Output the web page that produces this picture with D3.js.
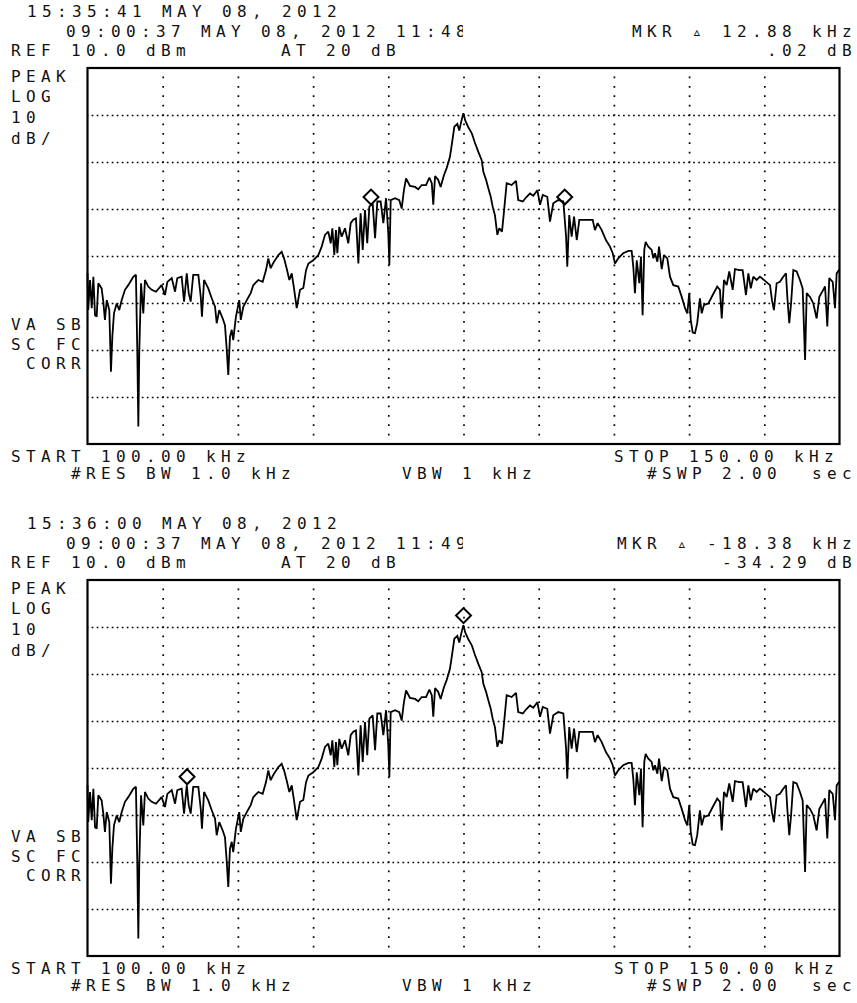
<!DOCTYPE html>
<html><head><meta charset="utf-8">
<script src="https://cdn.jsdelivr.net/npm/d3@7/dist/d3.min.js"></script>
<style>
html,body{margin:0;padding:0;background:#fff;}
svg{display:block;}
text{font-family:"DejaVu Sans Mono","Liberation Mono",monospace;font-size:16px;fill:#111;letter-spacing:5.37px;}
</style></head><body>
<svg id="c" width="857" height="1003"></svg>
<script>
// ---- data (trace; same stored trace in both sweeps) ----
const freqKHz = [100.00,100.05,100.17,100.28,100.39,100.50,100.61,100.72,100.94,101.05,101.16,101.28,101.45,101.56,101.65,101.76,101.94,102.11,102.27,102.49,102.71,103.05,103.22,103.31,103.38,103.44,103.56,103.71,103.82,104.04,104.27,104.55,104.93,105.15,105.31,105.60,105.82,105.97,106.26,106.42,106.60,106.73,106.86,107.03,107.37,107.53,107.61,107.75,108.03,108.26,108.48,108.59,108.76,108.99,109.14,109.26,109.36,109.47,109.59,109.69,109.87,110.09,110.19,110.36,110.59,110.85,111.02,111.36,111.65,111.87,112.02,112.18,112.40,112.69,112.91,113.07,113.24,113.42,113.58,113.73,113.91,114.13,114.35,114.53,114.69,115.01,115.35,115.57,115.79,116.01,116.17,116.28,116.41,116.52,116.61,116.74,116.90,117.12,117.34,117.50,117.67,117.85,118.01,118.16,118.30,118.45,118.60,118.74,118.96,119.12,119.27,119.49,119.67,119.85,120.00,120.07,120.16,120.45,120.73,120.89,121.04,121.18,121.44,121.78,121.99,122.22,122.51,122.73,122.89,122.99,123.11,123.32,123.48,123.70,123.88,124.10,124.28,124.39,124.59,124.72,124.85,124.99,125.12,125.32,125.55,125.76,125.98,126.21,126.32,126.50,126.65,126.81,126.94,127.09,127.25,127.38,127.56,127.69,127.87,128.20,128.49,128.64,128.94,129.20,129.42,129.64,129.91,130.09,130.27,130.57,130.75,130.97,131.30,131.64,131.82,131.90,132.03,132.19,132.35,132.53,132.70,133.19,133.59,133.74,133.92,134.19,134.47,134.74,134.92,135.07,135.29,135.62,135.96,136.18,136.29,136.40,136.52,136.69,136.80,136.91,137.02,137.11,137.29,137.51,137.62,137.73,137.89,138.00,138.18,138.33,138.55,138.73,138.95,139.28,139.51,139.73,139.88,140.01,140.11,140.24,140.39,140.54,140.72,140.84,140.99,141.28,141.57,141.87,142.05,142.17,142.32,142.50,142.67,142.90,143.05,143.34,143.56,143.78,143.94,144.10,144.27,144.49,144.71,145.05,145.38,145.51,145.64,145.82,146.04,146.26,146.44,146.53,146.66,146.78,146.93,147.15,147.37,147.55,147.71,147.82,148.04,148.26,148.48,148.66,148.92,149.04,149.19,149.32,149.55,149.70,149.81,150.00];
const levelDbm = [-33.7,-41.5,-35.1,-41.1,-34.4,-42.6,-42.9,-35.8,-36.9,-39.7,-43.6,-39.4,-41.5,-54.6,-47.2,-42.2,-40.1,-41.5,-39.4,-37.2,-36.2,-34.4,-34.0,-50.0,-66.3,-50.7,-35.8,-42.2,-35.1,-36.5,-37.2,-37.6,-36.2,-38.3,-35.5,-34.7,-37.6,-34.7,-34.4,-39.7,-33.7,-37.9,-39.7,-34.0,-34.0,-38.7,-42.9,-35.1,-36.9,-39.0,-40.8,-44.3,-41.5,-43.3,-44.7,-50.0,-55.3,-47.2,-45.7,-47.9,-42.9,-39.4,-43.6,-40.8,-39.4,-37.9,-36.2,-35.1,-35.5,-33.0,-30.5,-32.6,-31.2,-29.8,-29.1,-30.5,-32.6,-35.1,-33.7,-36.9,-41.1,-37.2,-36.8,-33.0,-31.6,-30.9,-29.8,-28.0,-25.5,-24.8,-27.3,-24.1,-29.8,-24.5,-29.4,-23.8,-25.9,-24.1,-27.3,-23.0,-22.3,-22.0,-31.6,-20.9,-28.7,-20.2,-27.3,-19.5,-18.8,-26.2,-18.4,-18.4,-23.0,-17.7,-25.2,-31.9,-18.1,-17.7,-18.1,-19.9,-16.0,-13.5,-15.1,-15.3,-15.8,-14.9,-14.9,-13.3,-14.5,-19.1,-13.0,-13.8,-15.3,-12.8,-11.3,-8.9,-5.0,-2.5,-1.9,-3.3,-1.4,0.4,-1.2,-2.6,-3.9,-5.9,-7.8,-9.6,-12.1,-13.8,-15.6,-17.4,-19.5,-21.3,-25.5,-24.1,-24.8,-20.6,-14.5,-14.9,-14.0,-18.1,-18.4,-17.4,-16.7,-17.2,-16.0,-19.1,-17.0,-17.4,-22.7,-18.8,-18.1,-18.4,-25.9,-32.3,-21.3,-25.9,-21.6,-26.6,-22.3,-22.3,-22.3,-24.5,-23.0,-24.5,-26.6,-28.0,-29.4,-31.6,-30.5,-29.4,-28.9,-28.9,-32.3,-37.9,-30.9,-35.8,-30.1,-42.6,-28.7,-27.0,-28.0,-28.7,-30.5,-29.4,-31.2,-28.0,-32.8,-29.8,-30.5,-34.4,-36.2,-36.5,-38.7,-41.1,-42.2,-37.9,-43.6,-46.3,-46.4,-44.3,-39.0,-42.2,-40.4,-40.1,-38.3,-36.5,-37.2,-43.3,-35.1,-36.2,-33.3,-37.2,-32.8,-33.0,-33.0,-38.3,-33.7,-36.9,-34.4,-35.1,-34.4,-35.3,-36.2,-39.4,-41.5,-35.8,-35.5,-34.4,-33.7,-38.7,-44.3,-40.1,-33.0,-33.3,-35.1,-36.9,-52.1,-37.9,-38.7,-40.1,-43.3,-38.7,-37.2,-36.5,-45.0,-34.7,-35.5,-41.1,-33.7,-32.8];

const freqDomain = [100, 150];          // START / STOP kHz
const levelDomain = [-70, 10];          // REF 10 dBm, 10 dB/div, 8 div
const freqGrid = [105,110,115,120,125,130,135,140,145];
const levelGrid = [0,-10,-20,-30,-40,-50,-60];

const sweepTime = ["15:35:41 MAY 08, 2012", "15:36:00 MAY 08, 2012"];
const stampLine = ["09:00:37 MAY 08, 2012 11:48", "09:00:37 MAY 08, 2012 11:49"];
const mkrFreqText = ["MKR \u25B5 12.88 kHz", "MKR \u25B5 -18.38 kHz"];
const mkrLevelText = [".02 dB", "-34.29 dB"];
const markerFreq = [[118.85, 131.73], [125.00, 106.62]];
const markerLevel = [[-19.6, -19.58], [0.3, -33.99]];
const leftLabelsTop = ["PEAK", "LOG", "10", "dB/"];
const leftLabelsBottom = ["VA SB", "SC FC", " CORR"];
const refText = "REF 10.0 dBm";
const attText = "AT 20 dB";
const startText = "START 100.00 kHz";
const stopText = "STOP 150.00 kHz";
const rbwText = "#RES BW 1.0 kHz";
const vbwText = "VBW 1 kHz";
const swpText = "#SWP 2.00  sec";

// ---- layout ----
const L = 87.5, R = 839.5, T = 68, B = 444;
const panelOffset = [0, 512];
const svg = d3.select("#c");
const x = d3.scaleLinear().domain(freqDomain).range([L, R]);
const y = d3.scaleLinear().domain(levelDomain).range([B, T]);
const trace = freqKHz.map((f, i) => [f, levelDbm[i]]);

const defs = svg.append("defs");
defs.append("clipPath").attr("id", "stampClip").attr("clipPathUnits", "userSpaceOnUse")
  .append("rect").attr("x", 0).attr("y", 0).attr("width", 463).attr("height", 60);

function txt(g, s, px, py) {
  return g.append("text").attr("x", px).attr("y", py).attr("xml:space", "preserve").text(s);
}

panelOffset.forEach((off, p) => {
  const g = svg.append("g").attr("transform", `translate(0,${off})`);

  // header
  txt(g, sweepTime[p], 27, 17);
  g.append("g").attr("clip-path", "url(#stampClip)")
    .append("text").attr("x", 66).attr("y", 37).attr("xml:space", "preserve").text(stampLine[p]);
  txt(g, mkrFreqText[p], 842 - (mkrFreqText[p].length - 1) * 15, 37);
  txt(g, refText, 11, 56);
  txt(g, attText, 281, 56);
  txt(g, mkrLevelText[p], 842 - (mkrLevelText[p].length - 1) * 15, 56);

  leftLabelsTop.forEach((s, i) => txt(g, s, 11, 81.5 + i * 20.8));
  leftLabelsBottom.forEach((s, i) => txt(g, s, 11, 330 + i * 19.5));

  // footer
  txt(g, startText, 11, 462);
  txt(g, stopText, 614, 462);
  txt(g, rbwText, 71, 479);
  txt(g, vbwText, 402, 479);
  txt(g, swpText, 647, 479);

  // dotted grid via axes
  const gx = g.append("g").attr("transform", `translate(0,${B})`)
    .call(d3.axisBottom(x).tickValues(freqGrid).tickSize(-(B - T)).tickFormat(""));
  gx.select(".domain").remove();
  gx.selectAll(".tick line").attr("stroke", "#000").attr("stroke-width", 1.7)
    .attr("stroke-dasharray", "1.7,7.7").attr("stroke-dashoffset", 0.85);

  const gy = g.append("g").attr("transform", `translate(${L},0)`)
    .call(d3.axisLeft(y).tickValues(levelGrid).tickSize(-(R - L)).tickFormat(""));
  gy.select(".domain").remove();
  gy.selectAll(".tick line").attr("stroke", "#000").attr("stroke-width", 1.7)
    .attr("stroke-dasharray", "1.7,3.313").attr("stroke-dashoffset", 0.85);

  // frame
  g.append("rect").attr("x", L).attr("y", T).attr("width", R - L).attr("height", B - T)
    .attr("fill", "none").attr("stroke", "#000").attr("stroke-width", 2.2);

  // trace
  g.append("path").datum(trace)
    .attr("fill", "none").attr("stroke", "#000").attr("stroke-width", 1.8)
    .attr("stroke-linejoin", "miter").attr("stroke-miterlimit", 2)
    .attr("d", d3.line().x(d => x(d[0])).y(d => y(d[1])));

  // markers (diamond sitting just above the marked point)
  const sym = d3.symbol().type(d3.symbolSquare).size(112);
  g.selectAll("path.mkr").data(markerFreq[p].map((f, i) => [f, markerLevel[p][i]]))
    .join("path").attr("class", "mkr")
    .attr("transform", d => `translate(${x(d[0])},${y(d[1]) - 10}) rotate(45)`)
    .attr("d", sym).attr("fill", "none").attr("stroke", "#000").attr("stroke-width", 2);
});
</script>
</body></html>
